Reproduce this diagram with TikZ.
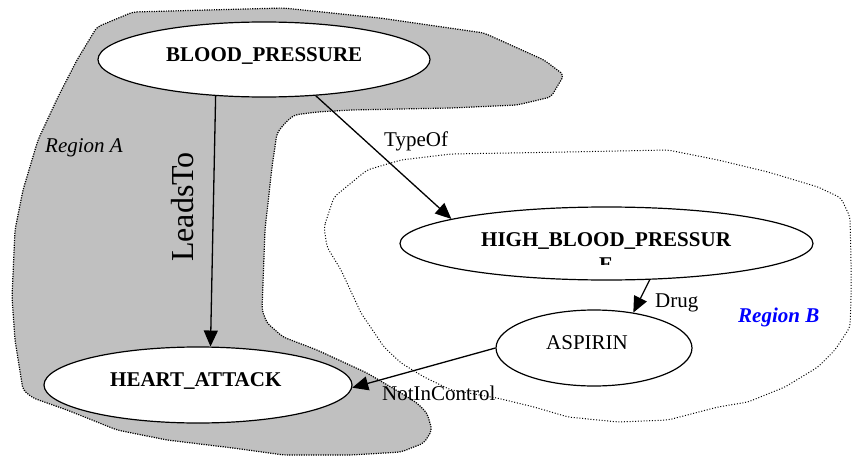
\documentclass[tikz,border=0pt]{standalone}
\usepackage{fontspec}
\setmainfont{Liberation Serif}
\usetikzlibrary{shapes.geometric,arrows.meta}
\definecolor{regiongray}{RGB}{192,192,192}
\definecolor{regionblue}{RGB}{0,0,255}
\tikzset{
  concept/.style={ellipse, draw=black, line width=1.2pt, fill=white, inner sep=0pt},
  conceptname/.style={inner sep=0pt, anchor=base west, font=\fontsize{21}{24}\selectfont\bfseries},
  drugname/.style={inner sep=0pt, anchor=base west, font=\fontsize{21}{24}\selectfont},
  rel/.style={draw=black, line width=1.3pt, -{Triangle[length=16pt,width=14pt]}},
  rellabel/.style={inner sep=0pt, anchor=base west, font=\fontsize{21}{24}\selectfont},
  regionA/.style={fill=regiongray, draw=black, line width=1.2pt, dash pattern=on 1.2pt off 1.2pt, rounded corners=4pt},
  regionB/.style={draw=black, line width=1pt, dash pattern=on 1pt off 1.8pt, rounded corners=4pt},
}
\begin{document}
\begin{tikzpicture}[x=1pt, y=-1pt]
\useasboundingbox (0,0) rectangle (852,460);

% Region A: shaded freeform area
\path[regionA] (133,12) -- (283,8) -- (380,18) -- (484,33) -- (544,60) -- (564,75)
  -- (551,97) -- (517,105) -- (451,108) -- (351,110) -- (317,112) -- (294,115)
  -- (285,123) -- (277,133) -- (272,167) -- (265,230) -- (262,310) -- (267,323)
  -- (283,337) -- (317,350) -- (367,373) -- (401,393) -- (417,403) -- (427,413)
  -- (432,430) -- (424,443) -- (401,452) -- (351,455) -- (284,455) -- (233,448)
  -- (167,440) -- (117,430) -- (67,410) -- (33,398) -- (23,390) -- (15,340)
  -- (12,297) -- (15,230) -- (23,190) -- (38,140) -- (58,97) -- (77,60)
  -- (97,27) -- cycle;

% Region B: dotted outline
\path[regionB] (324,227) -- (334,197) -- (367,170) -- (401,160) -- (451,154)
  -- (567,152) -- (668,150) -- (718,160) -- (768,172) -- (818,187) -- (841,198)
  -- (850,217) -- (851,260) -- (851,300) -- (850,327) -- (835,350) -- (818,367)
  -- (785,387) -- (748,402) -- (718,407) -- (668,420) -- (618,422) -- (568,417)
  -- (534,407) -- (497,398) -- (451,390) -- (424,377) -- (401,363) -- (384,347)
  -- (361,313) -- (341,270) -- (327,247) -- cycle;

% Concepts
\node[concept, minimum width=332pt, minimum height=75pt] (bp) at (264,59.5) {};
\node[concept, minimum width=308pt, minimum height=76pt] (ha) at (198,385) {};
\node[concept, minimum width=413pt, minimum height=73pt] (hbp) at (606.5,243.5) {};
\node[concept, minimum width=196pt, minimum height=76pt] (as) at (594,348) {};

\node[conceptname] (bptext) at (166,61.5) {BLOOD\_PRESSURE};
\node[conceptname] (hatext) at (110,386.5) {HEART\_ATTACK};
\node[conceptname] (hbptext) at (481,246) {HIGH\_BLOOD\_PRESSUR};
\begin{scope}
  \clip (380,250) rectangle (830,264);
  \node[conceptname, anchor=base] (hbptail) at (606,271) {E};
\end{scope}
\node[drugname] (astext) at (546,349) {ASPIRIN};

% Relations
\draw[rel] (bp.217.4) -- (ha.72.5);
\draw[rel] (bp.-35.8) -- (hbp.171.5);
\draw[rel] (hbp.-40) -- (as.42);
\draw[rel] (as.180) -- (ha.-1);

\node[rellabel, rotate=90, font=\fontsize{32}{36}\selectfont] (leadsto) at (193,262) {LeadsTo};
\node[rellabel] (typeof) at (384,146.7) {TypeOf};
\node[rellabel] (drug) at (655,307.3) {Drug};
\node[rellabel] (notin) at (382,400) {NotInControl};

% Region names
\node[rellabel, font=\fontsize{21}{24}\selectfont\itshape] (rega) at (45,152) {Region A};
\node[rellabel, font=\fontsize{21}{24}\selectfont\bfseries\itshape, text=regionblue] (regb) at (738,322.7) {Region B};
\end{tikzpicture}
\end{document}
